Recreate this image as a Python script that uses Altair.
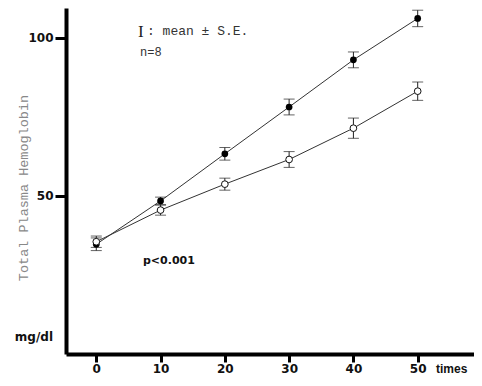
import altair as alt
import pandas as pd

times = [0, 10, 20, 30, 40, 50]
filled_mean = [34.7, 48.4, 63.3, 78.1, 93.0, 106.1]
filled_se = [2.0, 1.2, 2.0, 2.5, 2.5, 2.6]
open_mean = [35.5, 45.5, 53.7, 61.5, 71.4, 83.1]
open_se = [1.8, 1.6, 1.9, 2.5, 3.2, 2.9]
x_ticks = [0, 10, 20, 30, 40, 50]
y_ticks = [50, 100]

rows = []
for t, m, s in zip(times, filled_mean, filled_se):
    rows.append({"group": "filled", "time": t, "mean": m, "se": s})
for t, m, s in zip(times, open_mean, open_se):
    rows.append({"group": "open", "time": t, "mean": m, "se": s})
df = pd.DataFrame(rows)

xs = alt.Scale(domain=[-4.71, 58.76], nice=False, zero=False)
ys = alt.Scale(domain=[0, 109.4], nice=False, zero=False)

X = alt.X("time:Q", scale=xs, axis=alt.Axis(values=x_ticks, title="", tickSize=8, labelPadding=1))
Y = alt.Y("mean:Q", scale=ys, axis=alt.Axis(values=y_ticks, title="", tickSize=11, labelPadding=2))

base = alt.Chart(df).transform_calculate(
    lo="datum.mean - datum.se", hi="datum.mean + datum.se"
)

lines = base.mark_line(color="#333333", strokeWidth=1).encode(
    x=X, y=Y, detail="group:N"
)
bars = base.mark_rule(color="#222222", strokeWidth=1).encode(
    x=alt.X("time:Q", scale=xs), y=alt.Y("lo:Q", scale=ys), y2="hi:Q"
)
cap_lo = base.mark_tick(color="#222222", thickness=1, size=11, orient="horizontal").encode(
    x=alt.X("time:Q", scale=xs), y=alt.Y("lo:Q", scale=ys)
)
cap_hi = base.mark_tick(color="#222222", thickness=1, size=11, orient="horizontal").encode(
    x=alt.X("time:Q", scale=xs), y=alt.Y("hi:Q", scale=ys)
)
pts_filled = base.transform_filter("datum.group == 'filled'").mark_point(
    shape="circle", filled=True, size=45, color="#000000", opacity=1
).encode(x=alt.X("time:Q", scale=xs), y=alt.Y("mean:Q", scale=ys))
pts_open = base.transform_filter("datum.group == 'open'").mark_point(
    shape="circle", filled=True, size=45, fill="white", stroke="#111111", strokeWidth=1, opacity=1
).encode(x=alt.X("time:Q", scale=xs), y=alt.Y("mean:Q", scale=ys))

def label(txt, x, y, **kw):
    return alt.Chart(pd.DataFrame({"t": [txt]})).mark_text(**kw).encode(
        text="t:N", x=alt.value(x), y=alt.value(y)
    )

mono = "Liberation Mono"
t_legend_I = label("I", 72, 24, font="Liberation Serif", fontSize=17, align="left", baseline="middle", color="#222222")
t_legend = label(": mean ± S.E.", 81, 23, font=mono, fontSize=13, align="left", baseline="middle", color="#333333")
t_n = label("n=8", 74, 44, font=mono, fontSize=12, align="left", baseline="middle", color="#333333")
t_p = label("p<0.001", 77, 253, font="DejaVu Sans", fontWeight="bold", fontSize=11, align="left", baseline="middle", color="#111111")
t_mg = label("mg/dl", -13, 329, font="DejaVu Sans", fontWeight="bold", fontSize=12, align="right", baseline="middle", color="#111111")
t_times = label("times", 370, 361, font="Liberation Sans", fontWeight="bold", fontSize=12, align="left", baseline="middle", color="#111111")
t_ytitle = label("Total Plasma Hemoglobin", -42, 180, font=mono, fontSize=13.5, angle=270, align="center", baseline="middle", color="#888888")

chart = alt.layer(
    lines, bars, cap_lo, cap_hi, pts_filled, pts_open,
    t_legend_I, t_legend, t_n, t_p, t_mg, t_times, t_ytitle
).properties(
    width=408, height=346,
    padding={"left": 58, "top": 0, "right": 0, "bottom": 24},
    autosize="none",
    background="white",
).configure_view(stroke=None).configure_axis(
    grid=False,
    domainColor="#000000",
    domainWidth=4,
    tickColor="#000000",
    tickWidth=3,
    labelFont="DejaVu Sans",
    labelFontWeight="bold",
    labelFontSize=12,
    labelColor="#111111",
)

chart.save("out.html", embed_options={"renderer": "svg", "actions": False})
